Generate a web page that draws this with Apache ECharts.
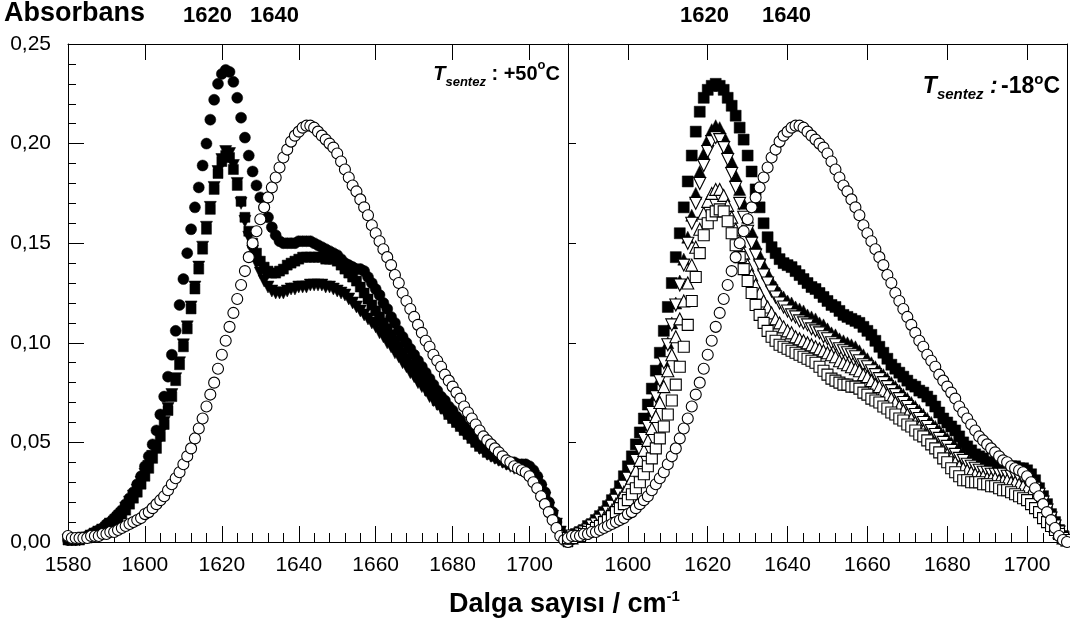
<!DOCTYPE html>
<html>
<head>
<meta charset="utf-8">
<script src="https://cdn.jsdelivr.net/npm/echarts@6/dist/echarts.min.js"></script>
<style>
html,body{margin:0;padding:0;background:#fff;}
#chart{width:1070px;height:639px;}
</style>
</head>
<body>
<div id="chart"></div>
<script>
// ---------------- DATA ----------------
// Wavenumber sampling (cm-1), 1 cm-1 step
const LEFT_START = 1580;   // left panel (T = +50 C) spectra start
const RIGHT_START = 1585;  // right panel (T = -18 C) spectra start
const X_TICKS = [1580, 1600, 1620, 1640, 1660, 1680, 1700];
const Y_TICKS = [0, 0.05, 0.10, 0.15, 0.20, 0.25];

// reference spectrum, open circles (both panels), 1580..1710
const openCircle = [
0.003,0.002,0.002,0.002,0.002,0.002,0.003,0.003,0.003,0.004,
0.004,0.005,0.005,0.006,0.007,0.008,0.009,0.010,0.011,0.012,
0.014,0.015,0.017,0.019,0.021,0.023,0.026,0.029,0.032,0.035,
0.039,0.043,0.047,0.052,0.057,0.062,0.068,0.074,0.080,0.087,
0.094,0.101,0.108,0.115,0.122,0.129,0.136,0.143,0.150,0.156,
0.162,0.168,0.173,0.178,0.183,0.188,0.193,0.197,0.201,0.204,
0.206,0.208,0.209,0.209,0.208,0.206,0.204,0.202,0.200,0.198,
0.195,0.191,0.187,0.183,0.179,0.176,0.172,0.168,0.164,0.159,
0.155,0.151,0.147,0.143,0.139,0.134,0.130,0.125,0.121,0.117,
0.113,0.109,0.105,0.101,0.098,0.094,0.091,0.088,0.084,0.081,
0.078,0.075,0.072,0.068,0.065,0.062,0.059,0.056,0.053,0.051,
0.049,0.047,0.045,0.043,0.041,0.040,0.038,0.037,0.036,0.035,
0.033,0.030,0.027,0.023,0.019,0.015,0.011,0.007,0.003,0.001,
0.000];

// left panel (+50 C), 1580..1710
const leftFilledCircle = [
0.001,0.001,0.001,0.002,0.002,0.003,0.004,0.005,0.006,0.007,
0.009,0.010,0.012,0.014,0.016,0.019,0.022,0.025,0.029,0.033,
0.038,0.043,0.049,0.056,0.064,0.073,0.083,0.094,0.106,0.119,
0.132,0.145,0.157,0.168,0.178,0.189,0.200,0.212,0.222,0.230,
0.235,0.237,0.236,0.231,0.223,0.213,0.203,0.194,0.186,0.179,
0.173,0.168,0.163,0.158,0.154,0.151,0.150,0.150,0.150,0.150,
0.151,0.151,0.151,0.151,0.150,0.149,0.148,0.147,0.146,0.145,
0.144,0.142,0.140,0.139,0.138,0.137,0.137,0.136,0.133,0.130,
0.127,0.124,0.120,0.117,0.113,0.110,0.106,0.103,0.100,0.097,
0.094,0.091,0.088,0.085,0.082,0.079,0.076,0.073,0.071,0.068,
0.066,0.063,0.061,0.058,0.056,0.054,0.052,0.050,0.048,0.046,
0.045,0.044,0.043,0.042,0.041,0.040,0.040,0.039,0.039,0.039,
0.038,0.036,0.033,0.029,0.025,0.020,0.015,0.010,0.005,0.002,
0.000];

const leftFilledSquare = [
0.001,0.001,0.001,0.001,0.002,0.002,0.003,0.004,0.005,0.006,
0.007,0.008,0.010,0.012,0.014,0.016,0.019,0.022,0.025,0.029,
0.033,0.037,0.042,0.047,0.053,0.059,0.066,0.073,0.081,0.089,
0.098,0.107,0.117,0.127,0.137,0.147,0.157,0.167,0.177,0.185,
0.191,0.194,0.193,0.187,0.179,0.171,0.163,0.156,0.150,0.145,
0.141,0.138,0.136,0.135,0.135,0.136,0.137,0.139,0.140,0.141,
0.142,0.143,0.143,0.143,0.143,0.143,0.143,0.142,0.142,0.142,
0.141,0.139,0.137,0.135,0.133,0.131,0.128,0.125,0.122,0.119,
0.116,0.113,0.110,0.107,0.104,0.101,0.098,0.095,0.092,0.089,
0.087,0.084,0.081,0.079,0.076,0.074,0.071,0.069,0.067,0.064,
0.062,0.060,0.058,0.056,0.054,0.052,0.050,0.048,0.047,0.045,
0.044,0.043,0.042,0.041,0.040,0.039,0.039,0.038,0.038,0.037,
0.036,0.034,0.031,0.027,0.023,0.018,0.013,0.009,0.005,0.002,
0.000];

const leftFilledTriDown = [
0.001,0.001,0.001,0.001,0.002,0.002,0.003,0.004,0.005,0.006,
0.007,0.009,0.010,0.012,0.014,0.017,0.020,0.023,0.026,0.030,
0.034,0.038,0.043,0.048,0.054,0.060,0.067,0.074,0.082,0.090,
0.099,0.108,0.118,0.128,0.138,0.148,0.158,0.168,0.178,0.186,
0.192,0.196,0.195,0.189,0.180,0.170,0.161,0.153,0.146,0.140,
0.135,0.131,0.128,0.126,0.125,0.125,0.125,0.126,0.127,0.127,
0.128,0.128,0.128,0.129,0.129,0.129,0.129,0.128,0.128,0.127,
0.126,0.125,0.124,0.122,0.120,0.118,0.116,0.114,0.112,0.110,
0.108,0.105,0.103,0.100,0.098,0.095,0.093,0.090,0.088,0.085,
0.083,0.080,0.078,0.076,0.073,0.071,0.069,0.067,0.065,0.063,
0.061,0.059,0.057,0.055,0.053,0.051,0.049,0.047,0.046,0.044,
0.043,0.042,0.041,0.040,0.039,0.038,0.037,0.037,0.036,0.036,
0.035,0.033,0.030,0.026,0.022,0.017,0.013,0.009,0.005,0.002,
0.000];

// right panel (-18 C), 1585..1710
const rightFilledSquare = [
0.002,0.003,0.004,0.005,0.006,
0.008,0.009,0.011,0.013,0.015,0.018,0.021,0.024,0.028,0.033,
0.038,0.043,0.049,0.055,0.062,0.069,0.077,0.086,0.095,0.106,
0.118,0.130,0.143,0.155,0.168,0.181,0.194,0.206,0.216,0.223,
0.227,0.229,0.230,0.229,0.227,0.223,0.219,0.214,0.208,0.202,
0.194,0.186,0.177,0.168,0.160,0.153,0.148,0.145,0.142,0.140,
0.139,0.138,0.136,0.134,0.132,0.130,0.128,0.127,0.125,0.123,
0.121,0.119,0.118,0.116,0.114,0.113,0.112,0.111,0.110,0.108,
0.106,0.104,0.101,0.098,0.095,0.092,0.089,0.087,0.085,0.083,
0.081,0.079,0.078,0.076,0.075,0.073,0.071,0.068,0.065,0.062,
0.060,0.058,0.056,0.053,0.050,0.048,0.046,0.044,0.043,0.042,
0.040,0.040,0.039,0.039,0.039,0.038,0.038,0.038,0.037,0.037,
0.036,0.034,0.031,0.027,0.023,0.019,0.014,0.010,0.006,0.003,
0.001];

const rightFilledTriUp = [
0.002,0.003,0.003,0.004,0.005,
0.007,0.008,0.010,0.012,0.014,0.016,0.019,0.022,0.025,0.029,
0.033,0.037,0.042,0.047,0.053,0.059,0.066,0.074,0.082,0.091,
0.100,0.110,0.120,0.131,0.142,0.153,0.164,0.175,0.186,0.195,
0.202,0.207,0.209,0.208,0.204,0.198,0.191,0.184,0.177,0.170,
0.163,0.156,0.150,0.144,0.139,0.135,0.131,0.128,0.125,0.123,
0.121,0.120,0.118,0.117,0.116,0.114,0.113,0.112,0.110,0.109,
0.107,0.105,0.104,0.102,0.101,0.100,0.099,0.098,0.096,0.094,
0.092,0.090,0.088,0.086,0.084,0.082,0.080,0.078,0.076,0.074,
0.072,0.070,0.068,0.066,0.064,0.062,0.060,0.058,0.056,0.054,
0.052,0.050,0.048,0.046,0.044,0.042,0.040,0.039,0.038,0.037,
0.036,0.036,0.035,0.035,0.035,0.034,0.034,0.034,0.033,0.033,
0.032,0.030,0.028,0.025,0.021,0.017,0.013,0.009,0.005,0.003,
0.001];

const rightOpenTriDown = [
0.002,0.003,0.003,0.004,0.005,
0.006,0.008,0.009,0.011,0.013,0.015,0.018,0.021,0.024,0.028,
0.032,0.036,0.041,0.046,0.052,0.058,0.065,0.073,0.081,0.090,
0.099,0.109,0.119,0.129,0.139,0.150,0.160,0.170,0.180,0.189,
0.196,0.201,0.203,0.202,0.198,0.192,0.185,0.178,0.170,0.163,
0.156,0.150,0.144,0.139,0.134,0.130,0.126,0.123,0.120,0.118,
0.116,0.114,0.113,0.111,0.110,0.109,0.107,0.106,0.105,0.103,
0.102,0.100,0.099,0.097,0.096,0.095,0.094,0.093,0.091,0.089,
0.088,0.086,0.084,0.082,0.080,0.078,0.076,0.074,0.072,0.070,
0.068,0.066,0.064,0.062,0.060,0.058,0.056,0.054,0.052,0.050,
0.048,0.046,0.044,0.042,0.041,0.039,0.038,0.037,0.036,0.035,
0.035,0.034,0.034,0.034,0.034,0.033,0.033,0.033,0.032,0.032,
0.031,0.029,0.027,0.024,0.020,0.016,0.012,0.008,0.005,0.002,
0.001];

const rightOpenTriUp = [
0.002,0.002,0.003,0.004,0.005,
0.006,0.007,0.008,0.010,0.012,0.014,0.016,0.019,0.022,0.025,
0.028,0.032,0.036,0.041,0.046,0.051,0.057,0.063,0.070,0.078,
0.086,0.094,0.103,0.112,0.121,0.130,0.139,0.148,0.157,0.165,
0.171,0.175,0.177,0.177,0.174,0.169,0.163,0.157,0.151,0.145,
0.139,0.134,0.129,0.125,0.121,0.118,0.115,0.112,0.110,0.108,
0.106,0.105,0.103,0.102,0.101,0.100,0.099,0.098,0.097,0.096,
0.095,0.094,0.093,0.091,0.090,0.089,0.088,0.087,0.086,0.084,
0.083,0.081,0.079,0.078,0.076,0.074,0.072,0.070,0.068,0.066,
0.064,0.062,0.060,0.058,0.056,0.054,0.052,0.050,0.048,0.046,
0.044,0.042,0.040,0.038,0.037,0.036,0.035,0.034,0.033,0.033,
0.032,0.032,0.032,0.031,0.031,0.031,0.030,0.030,0.029,0.028,
0.027,0.025,0.023,0.020,0.017,0.014,0.011,0.008,0.005,0.002,
0.001];

const rightOpenSquare = [
0.002,0.002,0.003,0.003,0.004,
0.005,0.006,0.007,0.008,0.010,0.011,0.013,0.015,0.017,0.019,
0.021,0.024,0.027,0.030,0.034,0.038,0.042,0.047,0.052,0.058,
0.064,0.071,0.079,0.088,0.098,0.109,0.121,0.133,0.145,0.154,
0.160,0.164,0.166,0.167,0.166,0.161,0.155,0.149,0.143,0.137,
0.131,0.125,0.119,0.114,0.110,0.106,0.103,0.101,0.099,0.098,
0.097,0.096,0.095,0.094,0.093,0.092,0.091,0.090,0.088,0.086,
0.084,0.082,0.081,0.080,0.079,0.079,0.078,0.078,0.077,0.075,
0.074,0.072,0.071,0.070,0.068,0.067,0.065,0.064,0.062,0.061,
0.059,0.058,0.056,0.054,0.053,0.051,0.049,0.047,0.045,0.042,
0.040,0.037,0.035,0.033,0.031,0.031,0.030,0.030,0.030,0.029,
0.029,0.028,0.028,0.027,0.026,0.026,0.025,0.024,0.023,0.022,
0.021,0.019,0.017,0.015,0.012,0.010,0.008,0.006,0.004,0.002,
0.001];

// ---------------- BUILD ----------------
const FONT = '"Liberation Sans", Arial, Helvetica, sans-serif';
function pairs(start, vals, minX) {
  const out = [];
  for (let i = 0; i < vals.length; i++) {
    const x = start + i;
    if (x >= minX) out.push([x, vals[i]]);
  }
  return out;
}
function minorX(min, max) {
  const out = [];
  for (let v = Math.ceil(min / 4) * 4; v <= max; v += 4) {
    if (v % 20 !== 0 && v > min && v < max) out.push(v);
  }
  return out;
}
const yMinor = [];
for (let k = 1; k < 25; k++) if (k % 5 !== 0) yMinor.push(k / 100);

const axisLineStyle = { show: true, lineStyle: { color: '#000', width: 1 } };
const noSplit = { show: false };

function xAxes(grid, min, max) {
  const majors = X_TICKS.filter(v => v >= min && v <= max);
  const majorInside = majors.filter(v => v > min);
  return [
    { type: 'value', gridIndex: grid, position: 'bottom', min: min, max: max,
      axisLine: axisLineStyle, splitLine: noSplit,
      axisTick: { show: true, inside: true, length: 16, customValues: majorInside, lineStyle: { color: '#000', width: 1 } },
      axisLabel: { show: true, customValues: majors, margin: 13, color: '#000', fontSize: 21, fontFamily: FONT,
        formatter: v => String(Math.round(v)) } },
    { type: 'value', gridIndex: grid, position: 'bottom', min: min, max: max,
      axisLine: { show: false }, splitLine: noSplit,
      axisTick: { show: true, inside: true, length: 9, customValues: minorX(min, max), lineStyle: { color: '#000', width: 1 } },
      axisLabel: { show: false } },
    { type: 'value', gridIndex: grid, position: 'top', min: min, max: max,
      axisLine: axisLineStyle, splitLine: noSplit,
      axisTick: { show: true, inside: true, length: 16, customValues: majorInside, lineStyle: { color: '#000', width: 1 } },
      axisLabel: { show: false } }
  ];
}
const yMajorInner = Y_TICKS.filter(v => v > 0 && v < 0.25);
const yAxesArr = [
  { type: 'value', gridIndex: 0, position: 'left', min: 0, max: 0.25,
    axisLine: axisLineStyle, splitLine: noSplit,
    axisTick: { show: true, inside: true, length: 16, customValues: yMajorInner, lineStyle: { color: '#000', width: 1 } },
    axisLabel: { show: true, customValues: Y_TICKS, margin: 17, color: '#000', fontSize: 21, fontFamily: FONT,
      formatter: v => v.toFixed(2).replace('.', ',') } },
  { type: 'value', gridIndex: 0, position: 'left', min: 0, max: 0.25,
    axisLine: { show: false }, splitLine: noSplit,
    axisTick: { show: true, inside: true, length: 8, customValues: yMinor, lineStyle: { color: '#000', width: 1 } },
    axisLabel: { show: false } },
  { type: 'value', gridIndex: 1, position: 'left', min: 0, max: 0.25,
    axisLine: axisLineStyle, splitLine: noSplit,
    axisTick: { show: true, inside: true, length: 8, customValues: yMajorInner, lineStyle: { color: '#000', width: 1 } },
    axisLabel: { show: false } },
  { type: 'value', gridIndex: 1, position: 'right', min: 0, max: 0.25,
    axisLine: axisLineStyle, splitLine: noSplit,
    axisTick: { show: false }, axisLabel: { show: false } }
];

const xAxesArr = xAxes(0, 1580, 1710).concat(xAxes(1, 1585, 1710));

function sc(name, xi, yi, data, symbol, size, filled, rotate) {
  return {
    name: name, type: 'scatter', xAxisIndex: xi, yAxisIndex: yi, data: data,
    symbol: symbol, symbolSize: size, symbolRotate: rotate || 0, silent: true,
    itemStyle: filled ? { color: '#000', borderColor: '#000', borderWidth: 0.5, opacity: 1 }
                      : { color: '#fff', borderColor: '#000', borderWidth: 1.1, opacity: 1 }
  };
}

const series = [
  sc('L tri', 0, 0, pairs(LEFT_START, leftFilledTriDown, 1580), 'triangle', 12, true, 180),
  sc('L sq', 0, 0, pairs(LEFT_START, leftFilledSquare, 1580), 'rect', 10, true),
  sc('L circ', 0, 0, pairs(LEFT_START, leftFilledCircle, 1580), 'circle', 11, true),
  sc('L open', 0, 0, pairs(LEFT_START, openCircle, 1580), 'circle', 11, false),
  sc('R sq', 3, 2, pairs(RIGHT_START, rightFilledSquare, 1585), 'rect', 11, true),
  sc('R tri', 3, 2, pairs(RIGHT_START, rightFilledTriUp, 1585), 'triangle', 12, true),
  sc('R otd', 3, 2, pairs(RIGHT_START, rightOpenTriDown, 1585), 'triangle', 12, false, 180),
  sc('R otu', 3, 2, pairs(RIGHT_START, rightOpenTriUp, 1585), 'triangle', 12, false),
  sc('R osq', 3, 2, pairs(RIGHT_START, rightOpenSquare, 1585), 'rect', 11, false),
  sc('R open', 3, 2, pairs(LEFT_START, openCircle, 1585), 'circle', 11, false)
];

function richAnn(size) {
  return {
    ti: { fontFamily: FONT, fontSize: size, fontWeight: 'bold', fontStyle: 'italic', lineHeight: 30 },
    sub: { fontFamily: FONT, fontSize: Math.round(size * 0.64), fontWeight: 'bold', fontStyle: 'italic', lineHeight: 16, verticalAlign: 'bottom' },
    b: { fontFamily: FONT, fontSize: size, fontWeight: 'bold', lineHeight: 30 },
    sup: { fontFamily: FONT, fontSize: Math.round(size * 0.64), fontWeight: 'bold', lineHeight: 16, verticalAlign: 'top' }
  };
}

const chart = echarts.init(document.getElementById('chart'), null, { renderer: 'canvas' });
chart.setOption({
  animation: false,
  backgroundColor: '#fff',
  grid: [
    { left: 68, top: 44, width: 500, height: 498 },
    { left: 568, top: 44, width: 499, height: 498 }
  ],
  xAxis: xAxesArr,
  yAxis: yAxesArr,
  series: series,
  graphic: [
    { type: 'text', left: 4, top: 0, style: { text: 'Absorbans', font: 'bold 27px ' + FONT, fill: '#000' } },
    { type: 'text', left: 183, top: 5, style: { text: '1620', font: 'bold 22px ' + FONT, fill: '#000' } },
    { type: 'text', left: 250, top: 5, style: { text: '1640', font: 'bold 22px ' + FONT, fill: '#000' } },
    { type: 'text', left: 680, top: 5, style: { text: '1620', font: 'bold 22px ' + FONT, fill: '#000' } },
    { type: 'text', left: 762, top: 5, style: { text: '1640', font: 'bold 22px ' + FONT, fill: '#000' } },
    { type: 'text', right: 1070 - 560, top: 59, style: { text: '{ti|T}{sub|sentez}{b| : +50}{sup|o}{b|C}', rich: richAnn(20), fill: '#000' } },
    { type: 'text', right: 1070 - 1060, top: 72, style: { text: '{ti|T}{sub|sentez}{ti| :} {b|-18}{sup|o}{b|C}', rich: richAnn(23), fill: '#000' } },
    { type: 'text', left: 449, top: 589, style: { text: '{b|Dalga sayısı / cm}{sup|-1}', fill: '#000',
      rich: {
        b: { fontFamily: FONT, fontSize: 27, fontWeight: 'bold', lineHeight: 32 },
        sup: { fontFamily: FONT, fontSize: 15, fontWeight: 'bold', lineHeight: 16, verticalAlign: 'top' }
      } } }
  ]
});
</script>
</body>
</html>
